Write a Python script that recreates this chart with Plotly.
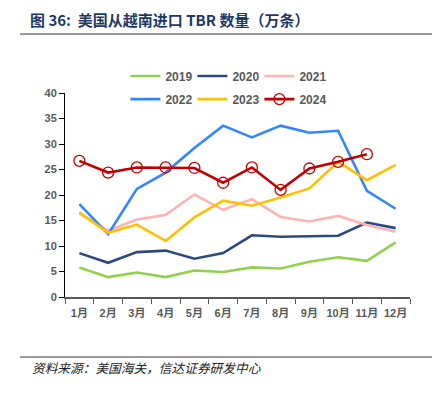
import plotly.graph_objects as go

months = ["1月", "2月", "3月", "4月", "5月", "6月", "7月", "8月", "9月", "10月", "11月", "12月"]
y2019 = [5.8, 3.9, 4.8, 3.9, 5.2, 4.9, 5.8, 5.6, 6.9, 7.8, 7.1, 10.7]
y2020 = [8.6, 6.7, 8.8, 9.1, 7.5, 8.6, 12.1, 11.8, 11.9, 12.0, 14.6, 13.5]
y2021 = [16.4, 13.0, 15.2, 16.1, 20.1, 17.1, 19.2, 15.7, 14.8, 15.9, 14.1, 12.8]
y2022 = [18.2, 12.3, 21.2, 24.4, 29.2, 33.6, 31.3, 33.6, 32.2, 32.6, 20.8, 17.3]
y2023 = [16.6, 12.6, 14.2, 11.0, 15.6, 18.9, 17.9, 19.5, 21.3, 26.5, 22.9, 25.9]
y2024 = [26.7, 24.4, 25.4, 25.4, 25.3, 22.4, 25.4, 21.0, 25.2, 26.5, 28.0]
yticks = [0, 5, 10, 15, 20, 25, 30, 35, 40]

fig = go.Figure()
series = [
    ("2019", y2019, "#92D050", "legend"),
    ("2020", y2020, "#2E4A7D", "legend"),
    ("2021", y2021, "#FFB3B3", "legend"),
    ("2022", y2022, "#3385FF", "legend2"),
    ("2023", y2023, "#FFC000", "legend2"),
]
for name, ys, col, lg in series:
    fig.add_trace(go.Scatter(x=months[:len(ys)], y=ys, name=name, mode="lines",
                             line=dict(color=col, width=2.6), legend=lg))
fig.add_trace(go.Scatter(x=months[:len(y2024)], y=y2024, name="2024", mode="lines+markers",
                         line=dict(color="#C00000", width=2.6),
                         marker=dict(symbol="circle-open", size=11, color="#C00000", line=dict(width=1.3)),
                         legend="legend2"))

legfont = dict(family="Liberation Sans, Arial", size=12, color="#595959", weight="bold")
fig.update_layout(
    width=437, height=393,
    margin=dict(l=65, r=27, t=93, b=96, autoexpand=False),
    paper_bgcolor="white", plot_bgcolor="white",
    showlegend=True,
    legend=dict(orientation="h", x=0.175, y=1.083, xanchor="left", yanchor="middle",
                font=legfont, entrywidth=22, entrywidthmode="pixels",
                bgcolor="rgba(0,0,0,0)", traceorder="normal"),
    legend2=dict(orientation="h", x=0.175, y=0.97, xanchor="left", yanchor="middle",
                 font=legfont, entrywidth=22, entrywidthmode="pixels",
                 bgcolor="rgba(0,0,0,0)", traceorder="normal"),
    xaxis=dict(type="category", categoryorder="array", categoryarray=months,
               range=[-0.5, 11.5], showline=True, linecolor="#595959", linewidth=1.5,
               ticks="outside", tickson="boundaries", ticklen=5, tickcolor="#595959",
               tickangle=0, ticklabelstandoff=5,
               tickfont=dict(family="Liberation Sans, Noto Sans CJK SC", size=11, color="#595959", weight="bold"),
               showgrid=False, zeroline=False),
    yaxis=dict(range=[0, 40], tickvals=yticks, showline=True, linecolor="black", linewidth=1,
               ticks="outside", ticklen=5, tickcolor="black",
               tickfont=dict(family="Liberation Sans, Arial", size=11, color="#595959", weight="bold"),
               showgrid=False, zeroline=False),
)

fig.add_annotation(text="图 36:  美国从越南进口 TBR 数量（万条）", xref="paper", yref="paper",
                   x=(28 - 65) / 345, y=(297 - 20) / 204, xanchor="left", yanchor="middle", showarrow=False,
                   font=dict(family="Noto Sans CJK SC", size=15, color="#1F3864", weight="bold"))
fig.add_shape(type="line", xref="paper", yref="paper",
              x0=(20 - 65) / 345, x1=(432 - 65) / 345, y0=(297 - 34) / 204, y1=(297 - 34) / 204,
              line=dict(color="#333333", width=1))
fig.add_shape(type="line", xref="paper", yref="paper",
              x0=(20 - 65) / 345, x1=(432 - 65) / 345, y0=(297 - 357) / 204, y1=(297 - 357) / 204,
              line=dict(color="#333333", width=1))
fig.add_annotation(text="资料来源：美国海关，信达证券研发中心", xref="paper", yref="paper",
                   x=(30 - 65) / 345, y=(297 - 367) / 204, xanchor="left", yanchor="middle", showarrow=False,
                   font=dict(family="Noto Sans CJK SC", size=12.7, color="#222222", style="italic"))

fig.write_html("out.html", config={"displayModeBar": False},
               post_script="document.body.style.margin='0';")
